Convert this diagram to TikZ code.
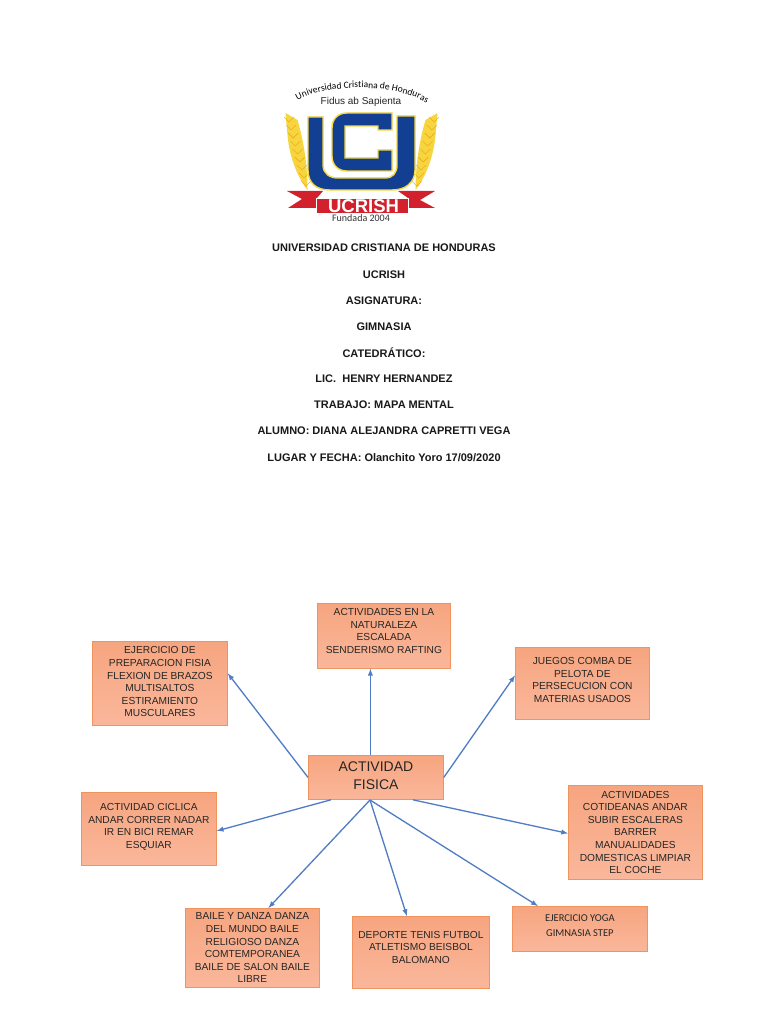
\documentclass[tikz,border=0pt]{standalone}
\usepackage{fontspec}
\setmainfont{Liberation Sans}
\newfontfamily\carlito{Carlito}
\usetikzlibrary{decorations.text}
\definecolor{boxedge}{HTML}{F0935C}
\definecolor{boxtop}{HTML}{F6A57F}
\definecolor{boxbottom}{HTML}{FAB79B}
\definecolor{linkblue}{HTML}{4F7CC4}
\definecolor{ucblue}{HTML}{123F92}
\definecolor{ucyellow}{HTML}{F5D63F}
\definecolor{ucred}{HTML}{D2202C}
\newcommand{\subir}[1]{\rule[-#1pt]{0pt}{#1pt}}

\begin{document}
\begin{tikzpicture}[x=1pt, y=-1pt,
	title/.style={font=\bfseries\fontsize{11}{13}\selectfont, text=black!90, inner sep=0pt},
	concept/.style={draw=boxedge, thick, top color=boxtop, bottom color=boxbottom, align=center, anchor=north west, inner sep=1pt, font=\fontsize{10.2}{12.6}\selectfont, text=black!85},
	link/.style={draw=linkblue, line width=1.3pt, -latex},
	wheat/.style={fill=ucyellow},
	grain/.style={draw=orange!70!ucyellow, line width=.4pt},
	ucshape/.style={draw=ucyellow, line width=1.4pt, fill=ucblue}]
	\useasboundingbox[fill=white] (0,0) rectangle (768,1024);

	% logo
	\foreach \side in {1,-1}{
		\begin{scope}[shift={(361.5,0)}, xscale=\side]
			\fill[wheat] (-76,113) -- (-64,120) .. controls (-58,140) and (-54,165) .. (-54,190) .. controls (-62,180) and (-72,160) .. (-74,135) -- cycle;
			\foreach \y in {122,130,...,186}{
				\draw[grain] ({-75+(\y-113)*.27-5},\y-5) -- ({-75+(\y-113)*.27},\y) -- ({-75+(\y-113)*.27+5},\y-5);
			}
		\end{scope}
	}
	\draw[ucshape] (308,117) -- (323,117) -- (323,165) .. controls (323,174) and (330,178) .. (338,178) -- (385,178) .. controls (393,178) and (397,173) .. (397,165) -- (397,116) -- (415,116) -- (415,170) .. controls (415,183) and (405,190) .. (392,190) -- (330,190) .. controls (316,190) and (308,183) .. (308,170) -- cycle;
	\draw[ucshape] (392,113) -- (347,113) .. controls (338,113) and (332,119) .. (332,128) -- (332,156) .. controls (332,165) and (338,171) .. (347,171) -- (392,171) -- (392,150) -- (378,150) -- (378,158) -- (345,158) -- (345,126) -- (378,126) -- (378,130) -- (392,130) -- cycle;
	\fill[ucred] (287,191) -- (323,191) -- (317,198) -- (317,208) -- (288,208) -- (302,199) -- cycle;
	\fill[ucred] (435,191) -- (398,191) -- (408,198) -- (408,208) -- (435,208) -- (420,200) -- cycle;
	\draw[fill=ucred, draw=white, line width=.8pt] (316,198) rectangle (408,213.5);
	\node[font=\bfseries\fontsize{18.5}{19}\selectfont, text=white, inner sep=0pt] (ucrish) at (363.5,206) {UCRISH};
	\node[font=\carlito\fontsize{10}{10}\selectfont, text=black!80, inner sep=0pt] (fundada) at (361,218.5) {Fundada 2004};
	\node[font=\fontsize{10}{10}\selectfont, text=black!85, inner sep=0pt] (lema) at (361,102) {Fidus ab Sapienta};
	\path[decorate, decoration={text along path, text align=center, text={|\carlito\fontsize{9.5}{10}\selectfont|Universidad Cristiana de Honduras}}]
		(296,101) .. controls (325,83) and (397,83) .. (428,104);

	% portada
	\node[title] (universidad) at (384,247.5) {UNIVERSIDAD CRISTIANA DE HONDURAS};
	\node[title] (siglas) at (384,274.5) {UCRISH};
	\node[title] (asignatura) at (384,300.5) {ASIGNATURA:};
	\node[title] (gimnasia) at (384,326.5) {GIMNASIA};
	\node[title] (catedratico) at (384,352.5) {CATEDRÁTICO:};
	\node[title] (lic) at (384,378.5) {LIC.\ \ HENRY HERNANDEZ};
	\node[title] (trabajo) at (384,404.5) {TRABAJO: MAPA MENTAL};
	\node[title] (alumno) at (384,430.5) {ALUMNO: DIANA ALEJANDRA CAPRETTI VEGA};
	\node[title] (lugar) at (384,457.5) {LUGAR Y FECHA: Olanchito Yoro 17/09/2020};

	% mapa
	\node[concept, minimum width=135pt, minimum height=44pt, font=\fontsize{14}{18.5}\selectfont] (fisica) at (308,755) {ACTIVIDAD\\FISICA\subir{4}};
	\node[concept, minimum width=133pt, minimum height=65pt] (naturaleza) at (317,603) {ACTIVIDADES EN LA\\NATURALEZA\\ESCALADA\\SENDERISMO RAFTING\subir{10}};
	\node[concept, minimum width=135pt, minimum height=84pt] (preparacion) at (92,641) {EJERCICIO DE\\PREPARACION FISIA\\FLEXION DE BRAZOS\\MULTISALTOS\\ESTIRAMIENTO\\MUSCULARES\subir{3}};
	\node[concept, minimum width=134pt, minimum height=72pt] (juegos) at (515,647) {JUEGOS COMBA DE\\PELOTA DE\\PERSECUCION CON\\MATERIAS USADOS\subir{7}};
	\node[concept, minimum width=135pt, minimum height=73pt] (ciclica) at (81,792) {ACTIVIDAD CICLICA\\ANDAR CORRER NADAR\\IR EN BICI REMAR\\ESQUIAR\subir{6}};
	\node[concept, minimum width=134pt, minimum height=94pt] (cotideanas) at (568,785) {ACTIVIDADES\\COTIDEANAS ANDAR\\SUBIR ESCALERAS\\BARRER\\MANUALIDADES\\DOMESTICAS LIMPIAR\\EL COCHE};
	\node[concept, minimum width=134pt, minimum height=79pt] (baile) at (185,908) {BAILE Y DANZA DANZA\\DEL MUNDO BAILE\\RELIGIOSO DANZA\\COMTEMPORANEA\\BAILE DE SALON BAILE\\LIBRE};
	\node[concept, minimum width=137pt, minimum height=72pt] (deporte) at (352,916) {DEPORTE TENIS FUTBOL\\ATLETISMO BEISBOL\\BALOMANO\subir{10}};
	\node[concept, minimum width=135pt, minimum height=45pt, font=\carlito\fontsize{10.5}{15}\selectfont] (yoga) at (512,906) {EJERCICIO YOGA\\GIMNASIA STEP\subir{7}};

	\coordinate (centro) at (370,800);
	\draw[link] ([xshift=-5.5pt]fisica.north) -- ([xshift=-13.5pt]naturaleza.south);
	\draw[link] (fisica.west) -- ([yshift=10pt]preparacion.east);
	\draw[link] (fisica.east) -- ([yshift=8pt]juegos.west);
	\draw[link] ([xshift=-45pt]fisica.south) -- ([yshift=-2pt]ciclica.east);
	\draw[link] ([xshift=37pt]fisica.south) -- ([yshift=-1pt]cotideanas.west);
	\draw[link] (centro) -- ([xshift=16pt]baile.north);
	\draw[link] (centro) -- ([xshift=-14pt]deporte.north);
	\draw[link] (centro) -- ([xshift=-42pt]yoga.north);
\end{tikzpicture}
\end{document}
